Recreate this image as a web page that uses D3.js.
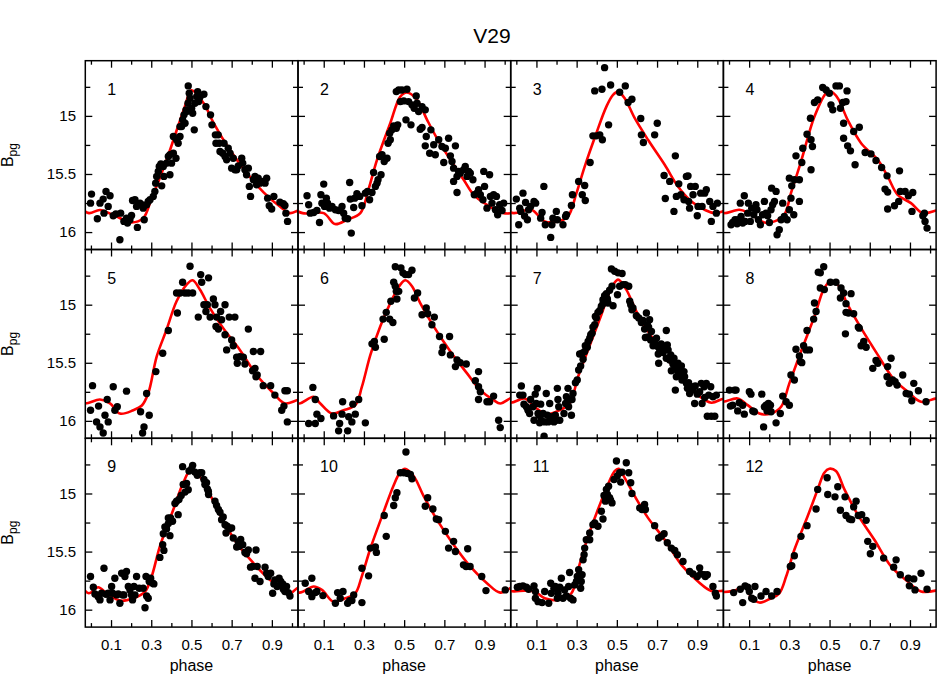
<!DOCTYPE html>
<html>
<head>
<meta charset="utf-8">
<script src="https://cdn.jsdelivr.net/npm/d3@7"></script>
<style>
body{margin:0;background:#fff}
text{font-family:"Liberation Sans",Arial,Helvetica,sans-serif;fill:#000}
</style>
</head>
<body>
<svg id="chart" width="937" height="684"></svg>
<script>
// ticks
const phaseMajor = [0.1, 0.3, 0.5, 0.7, 0.9];
const phaseMinor = [0, 0.2, 0.4, 0.6, 0.8, 1.0];
const magMajor = [15, 15.5, 16];
const magMinor = [14.75, 15.25, 15.75];
const panelNames = ['1','2','3','4','5','6','7','8','9','10','11','12'];

// observations [phase, B_pg]
const obs1 = [[0.003,15.673],[-0.002,15.751],[0.032,15.885],[0.045,15.751],[0.061,15.716],[0.075,15.65],[0.095,15.688],[0.065,15.837],[0.086,15.779],[0.111,15.86],[0.124,15.845],[0.148,15.837],[0.144,16.066],[0.164,15.908],[0.177,15.88],[0.182,15.922],[0.194,15.894],[0.202,15.857],[0.207,15.728],[0.219,15.722],[0.227,15.779],[0.231,15.96],[0.244,15.751],[0.252,15.765],[0.26,15.794],[0.265,15.894],[0.277,15.765],[0.285,15.736],[0.294,15.722],[0.31,15.693],[0.318,15.65],[0.322,15.579],[0.327,15.521],[0.335,15.478],[0.34,15.435],[0.348,15.413],[0.36,15.435],[0.363,15.521],[0.352,15.602],[0.376,15.407],[0.385,15.35],[0.393,15.335],[0.401,15.407],[0.393,15.507],[0.41,15.321],[0.423,15.364],[0.41,15.178],[0.426,15.206],[0.443,15.178],[0.443,15.092],[0.434,15.235],[0.451,15.092],[0.456,15.034],[0.463,14.991],[0.473,14.948],[0.468,15.063],[0.476,14.963],[0.483,14.891],[0.484,14.742],[0.489,14.805],[0.493,14.848],[0.501,14.934],[0.506,14.977],[0.514,15.12],[0.517,14.891],[0.526,14.834],[0.531,14.791],[0.536,14.877],[0.542,14.84],[0.562,14.814],[0.572,14.92],[0.595,14.991],[0.602,15.077],[0.619,15.163],[0.622,15.235],[0.633,15.163],[0.638,15.235],[0.642,15.307],[0.655,15.321],[0.662,15.235],[0.667,15.35],[0.675,15.378],[0.683,15.278],[0.692,15.321],[0.7,15.45],[0.708,15.364],[0.716,15.464],[0.725,15.464],[0.733,15.43],[0.75,15.364],[0.755,15.407],[0.766,15.464],[0.774,15.507],[0.783,15.45],[0.788,15.607],[0.794,15.693],[0.808,15.55],[0.816,15.521],[0.824,15.593],[0.832,15.536],[0.841,15.579],[0.854,15.564],[0.866,15.579],[0.874,15.536],[0.879,15.708],[0.887,15.774],[0.899,15.802],[0.91,15.693],[0.94,15.742],[0.957,15.756],[0.965,15.771],[0.97,15.837],[0.978,15.908]];
const obs2 = [[0.017,15.688],[0.025,15.765],[0.033,15.837],[0.05,15.831],[0.066,15.814],[0.079,15.917],[0.086,15.679],[0.091,15.751],[0.1,15.587],[0.104,15.779],[0.113,15.708],[0.119,15.751],[0.129,15.794],[0.141,15.779],[0.158,15.808],[0.174,15.814],[0.191,15.779],[0.199,15.837],[0.207,15.88],[0.219,15.885],[0.229,15.573],[0.237,16.009],[0.232,15.716],[0.249,15.788],[0.254,15.708],[0.265,15.67],[0.279,15.693],[0.29,15.774],[0.307,15.665],[0.318,15.65],[0.328,15.722],[0.34,15.659],[0.348,15.487],[0.357,15.607],[0.365,15.579],[0.37,15.55],[0.385,15.507],[0.378,15.35],[0.39,15.335],[0.401,15.393],[0.415,15.364],[0.42,15.235],[0.431,15.206],[0.428,15.149],[0.439,15.12],[0.448,15.086],[0.461,15.106],[0.468,15.077],[0.461,14.791],[0.473,14.777],[0.489,14.777],[0.514,14.771],[0.481,14.877],[0.498,14.871],[0.509,15.034],[0.522,14.877],[0.534,15.077],[0.539,14.905],[0.55,14.934],[0.56,14.828],[0.564,14.891],[0.572,14.963],[0.58,15.115],[0.589,14.92],[0.605,14.948],[0.589,15.1],[0.61,15.178],[0.633,15.12],[0.605,15.258],[0.627,15.321],[0.647,15.249],[0.655,15.335],[0.672,15.206],[0.688,15.264],[0.697,15.401],[0.705,15.278],[0.721,15.192],[0.73,15.344],[0.738,15.393],[0.746,15.45],[0.755,15.258],[0.746,15.564],[0.763,15.659],[0.763,15.521],[0.771,15.478],[0.779,15.493],[0.796,15.464],[0.804,15.435],[0.813,15.521],[0.821,15.478],[0.829,15.493],[0.842,15.55],[0.849,15.679],[0.862,15.665],[0.87,15.636],[0.879,15.679],[0.892,15.722],[0.896,15.478],[0.9,15.607],[0.912,15.794],[0.925,15.507],[0.929,15.693],[0.937,15.751],[0.945,15.679],[0.954,15.808],[0.959,15.693],[0.965,15.851],[0.975,15.765],[0.987,15.814],[0.995,15.751]];
const obs3 = [[0.0,15.716],[0.017,15.794],[0.012,15.937],[0.022,15.822],[0.033,15.665],[0.041,15.862],[0.046,15.745],[0.055,15.894],[0.061,15.808],[0.071,15.779],[0.088,15.736],[0.096,15.751],[0.121,15.88],[0.128,15.831],[0.137,15.607],[0.144,15.937],[0.171,16.046],[0.177,15.937],[0.182,15.88],[0.199,15.822],[0.204,15.894],[0.232,15.937],[0.245,15.865],[0.249,15.851],[0.274,15.771],[0.279,15.679],[0.31,15.564],[0.328,15.679],[0.34,15.599],[0.343,15.728],[0.367,15.401],[0.381,15.172],[0.398,15.172],[0.415,15.163],[0.428,15.206],[0.39,14.785],[0.426,14.771],[0.439,14.585],[0.459,15.077],[0.469,14.734],[0.514,14.797],[0.542,14.742],[0.556,14.885],[0.575,14.857],[0.619,15.023],[0.622,15.163],[0.632,15.229],[0.688,15.163],[0.701,15.063],[0.735,15.513],[0.741,15.711],[0.763,15.564],[0.784,15.822],[0.791,15.344],[0.796,15.693],[0.808,15.585],[0.818,15.679],[0.834,15.722],[0.846,15.521],[0.854,15.516],[0.862,15.794],[0.857,15.736],[0.867,15.607],[0.879,15.679],[0.89,15.607],[0.9,15.86],[0.904,15.779],[0.917,15.665],[0.924,15.779],[0.937,15.665],[0.945,15.636],[0.962,15.736],[0.97,15.908],[0.978,15.779],[0.995,15.837],[1.0,15.751]];
const obs4 = [[0.01,15.937],[0.018,15.917],[0.03,15.894],[0.04,15.928],[0.046,15.894],[0.056,15.751],[0.06,15.865],[0.068,15.922],[0.076,15.688],[0.08,15.908],[0.093,15.837],[0.096,15.751],[0.106,15.908],[0.113,15.794],[0.123,15.851],[0.134,15.765],[0.139,15.808],[0.146,15.894],[0.156,15.937],[0.167,15.851],[0.176,15.736],[0.184,15.837],[0.192,15.86],[0.201,15.917],[0.209,15.808],[0.217,15.765],[0.226,15.736],[0.212,15.622],[0.234,15.65],[0.239,16.023],[0.25,15.98],[0.259,15.894],[0.267,15.751],[0.275,15.865],[0.289,15.894],[0.3,15.808],[0.308,15.708],[0.322,15.851],[0.3,15.536],[0.312,15.602],[0.325,15.55],[0.35,15.55],[0.35,15.736],[0.333,15.344],[0.362,15.401],[0.367,15.278],[0.388,15.158],[0.408,15.464],[0.408,15.206],[0.405,15.02],[0.415,15.264],[0.425,14.885],[0.441,14.862],[0.466,14.756],[0.483,14.777],[0.499,14.805],[0.507,14.905],[0.516,14.948],[0.532,14.742],[0.549,14.742],[0.554,14.934],[0.566,14.885],[0.582,14.877],[0.587,14.785],[0.57,15.063],[0.57,15.192],[0.59,15.258],[0.604,15.301],[0.62,15.135],[0.648,15.098],[0.627,15.421],[0.677,15.315],[0.706,15.327],[0.731,15.384],[0.759,15.444],[0.776,15.63],[0.786,15.516],[0.789,15.656],[0.789,15.802],[0.823,15.774],[0.844,15.736],[0.848,15.473],[0.852,15.65],[0.876,15.65],[0.892,15.688],[0.914,15.659],[0.91,15.822],[0.964,15.86],[0.975,15.908],[0.985,15.966],[0.972,15.837]];
const obs5 = [[0.008,15.697],[-0.002,15.908],[0.028,16.009],[0.038,15.873],[0.045,16.052],[0.061,16.104],[0.07,15.951],[0.081,15.816],[0.086,16.009],[0.111,15.706],[0.119,15.908],[0.131,15.879],[0.177,15.744],[0.247,15.922],[0.257,16.104],[0.264,16.052],[0.277,15.764],[0.29,15.951],[0.323,15.576],[0.357,15.418],[0.385,15.222],[0.43,15.072],[0.426,14.899],[0.443,14.899],[0.456,14.807],[0.468,14.899],[0.484,14.899],[0.493,14.669],[0.506,14.899],[0.534,15.107],[0.546,14.741],[0.551,14.807],[0.562,15.0],[0.572,15.058],[0.579,15.0],[0.585,14.769],[0.593,15.107],[0.609,14.951],[0.617,15.0],[0.622,15.187],[0.625,15.107],[0.634,15.21],[0.645,15.058],[0.65,15.13],[0.667,15.0],[0.667,15.259],[0.675,15.389],[0.688,15.107],[0.7,15.303],[0.708,15.354],[0.716,15.107],[0.725,15.452],[0.728,15.504],[0.741,15.447],[0.758,15.452],[0.766,15.51],[0.783,15.21],[0.804,15.568],[0.808,15.403],[0.816,15.548],[0.821,15.62],[0.827,15.605],[0.844,15.403],[0.857,15.697],[0.894,15.697],[0.915,15.778],[0.949,15.908],[0.96,15.873],[0.965,15.741],[0.977,15.741],[0.977,16.009]];
const obs6 = [[0.025,16.023],[0.046,15.712],[0.058,15.816],[0.058,16.023],[0.066,15.942],[0.086,15.98],[0.149,15.957],[0.179,16.023],[0.191,15.942],[0.194,15.836],[0.174,16.086],[0.219,16.086],[0.224,15.965],[0.24,16.009],[0.245,15.856],[0.257,15.942],[0.274,15.816],[0.307,16.017],[0.34,15.337],[0.352,15.317],[0.357,15.366],[0.395,15.124],[0.401,15.297],[0.411,15.066],[0.428,15.124],[0.444,15.153],[0.434,14.971],[0.448,14.807],[0.456,14.841],[0.464,14.951],[0.461,14.885],[0.473,14.885],[0.456,14.674],[0.484,14.683],[0.494,14.726],[0.506,14.741],[0.522,14.741],[0.539,14.703],[0.551,14.942],[0.567,14.899],[0.589,15.086],[0.61,15.029],[0.617,15.078],[0.638,15.173],[0.65,15.107],[0.676,15.274],[0.688,15.412],[0.693,15.366],[0.726,15.274],[0.73,15.432],[0.755,15.533],[0.763,15.476],[0.779,15.499],[0.809,15.51],[0.854,15.654],[0.87,15.576],[0.87,15.706],[0.879,15.749],[0.87,15.816],[0.912,15.836],[0.925,15.836],[0.945,15.787],[0.97,15.994],[0.978,16.058]];
const obs7 = [[0.017,15.778],[0.025,15.7],[0.033,15.778],[0.038,15.856],[0.05,15.879],[0.058,15.908],[0.066,15.937],[0.071,15.816],[0.083,15.879],[0.088,15.994],[0.094,15.77],[0.099,15.85],[0.104,15.72],[0.108,15.937],[0.113,15.951],[0.116,16.017],[0.121,15.856],[0.124,15.994],[0.133,15.937],[0.138,16.133],[0.141,16.009],[0.149,15.764],[0.154,15.951],[0.158,16.009],[0.166,15.85],[0.171,15.965],[0.177,15.994],[0.187,16.009],[0.194,15.951],[0.199,15.994],[0.204,15.72],[0.207,15.816],[0.211,15.879],[0.216,15.994],[0.237,15.937],[0.245,15.85],[0.249,15.793],[0.257,15.72],[0.26,15.879],[0.265,15.821],[0.274,15.951],[0.277,15.816],[0.282,15.764],[0.294,15.671],[0.303,15.648],[0.31,15.562],[0.32,15.527],[0.332,15.47],[0.315,15.424],[0.327,15.418],[0.34,15.403],[0.343,15.354],[0.353,15.366],[0.357,15.317],[0.365,15.288],[0.37,15.259],[0.377,15.245],[0.381,15.193],[0.39,15.173],[0.398,15.115],[0.393,15.101],[0.406,15.066],[0.415,15.049],[0.423,15.014],[0.431,14.957],[0.439,14.922],[0.431,14.991],[0.448,14.905],[0.453,14.951],[0.456,14.986],[0.464,14.876],[0.476,14.841],[0.481,15.009],[0.473,14.692],[0.489,14.712],[0.506,14.726],[0.526,14.732],[0.514,14.841],[0.503,14.914],[0.531,14.827],[0.542,14.827],[0.559,14.841],[0.564,14.971],[0.569,15.0],[0.58,15.029],[0.575,15.043],[0.597,15.095],[0.609,15.115],[0.622,15.153],[0.63,15.135],[0.638,15.21],[0.647,15.072],[0.652,15.173],[0.658,15.193],[0.663,15.13],[0.672,15.231],[0.642,15.282],[0.655,15.277],[0.668,15.305],[0.68,15.354],[0.688,15.317],[0.697,15.288],[0.703,15.36],[0.706,15.424],[0.708,15.504],[0.713,15.383],[0.721,15.337],[0.73,15.412],[0.735,15.36],[0.746,15.222],[0.746,15.461],[0.751,15.346],[0.755,15.389],[0.763,15.476],[0.768,15.432],[0.771,15.568],[0.779,15.51],[0.784,15.461],[0.791,15.533],[0.796,15.62],[0.801,15.568],[0.804,15.504],[0.813,15.548],[0.817,15.605],[0.821,15.527],[0.824,15.648],[0.834,15.576],[0.837,15.62],[0.846,15.677],[0.791,15.735],[0.851,15.72],[0.857,15.671],[0.862,15.764],[0.871,15.706],[0.879,15.735],[0.89,15.7],[0.887,15.85],[0.9,15.77],[0.912,15.749],[0.92,15.677],[0.924,15.85],[0.934,15.706],[0.937,15.798],[0.945,15.677],[0.95,15.96],[0.957,15.778],[0.967,15.706],[0.97,15.96],[0.978,15.793],[0.987,15.96],[0.995,15.778]];
const obs8 = [[0.002,15.735],[0.007,15.873],[0.018,15.865],[0.027,15.735],[0.035,15.735],[0.043,15.914],[0.051,15.844],[0.068,15.865],[0.076,15.942],[0.101,15.749],[0.109,15.77],[0.118,15.914],[0.126,15.922],[0.163,15.77],[0.172,16.052],[0.176,15.879],[0.184,15.865],[0.189,15.914],[0.196,15.85],[0.206,15.865],[0.209,15.922],[0.234,16.017],[0.255,15.937],[0.267,15.787],[0.284,15.836],[0.3,15.865],[0.308,15.605],[0.325,15.648],[0.333,15.383],[0.35,15.441],[0.355,15.49],[0.362,15.499],[0.371,15.354],[0.383,15.389],[0.4,15.389],[0.388,15.222],[0.421,15.124],[0.433,15.058],[0.425,14.986],[0.444,14.72],[0.454,14.726],[0.471,14.674],[0.454,14.856],[0.474,14.87],[0.504,14.807],[0.532,14.807],[0.557,14.856],[0.554,14.942],[0.57,14.899],[0.582,14.991],[0.607,14.905],[0.582,15.066],[0.594,15.072],[0.62,15.078],[0.643,15.193],[0.648,15.202],[0.579,15.251],[0.657,15.354],[0.67,15.317],[0.682,15.366],[0.731,15.481],[0.74,15.504],[0.715,15.548],[0.806,15.461],[0.789,15.533],[0.786,15.62],[0.797,15.677],[0.814,15.648],[0.826,15.663],[0.836,15.692],[0.864,15.605],[0.881,15.764],[0.897,15.77],[0.909,15.827],[0.919,15.677],[0.942,15.741],[0.98,15.836]];
const obs9 = [[-0.002,15.715],[0.012,15.807],[0.02,15.865],[0.036,15.888],[0.045,15.916],[0.053,15.859],[0.065,15.643],[0.075,15.867],[0.086,15.859],[0.095,15.916],[0.103,15.801],[0.108,15.859],[0.119,15.729],[0.128,15.873],[0.136,15.865],[0.144,15.945],[0.153,15.686],[0.158,15.873],[0.164,15.873],[0.169,15.715],[0.177,15.671],[0.186,15.801],[0.194,15.83],[0.202,15.873],[0.207,15.916],[0.214,15.801],[0.219,15.873],[0.227,15.715],[0.24,15.816],[0.26,15.816],[0.269,15.983],[0.274,15.715],[0.277,15.882],[0.285,15.902],[0.29,15.758],[0.297,15.729],[0.307,15.772],[0.313,15.778],[0.343,15.55],[0.357,15.441],[0.363,15.49],[0.36,15.346],[0.368,15.288],[0.376,15.305],[0.385,15.259],[0.393,15.363],[0.385,15.21],[0.396,15.21],[0.406,15.239],[0.418,15.086],[0.434,15.182],[0.426,15.066],[0.438,15.052],[0.449,15.017],[0.456,14.769],[0.459,14.922],[0.468,14.988],[0.476,14.914],[0.484,14.968],[0.488,14.807],[0.501,14.787],[0.506,14.758],[0.517,14.816],[0.529,14.844],[0.542,14.821],[0.551,14.821],[0.562,14.879],[0.567,14.922],[0.575,14.908],[0.579,14.96],[0.585,15.009],[0.584,14.98],[0.617,15.066],[0.625,15.104],[0.634,15.138],[0.642,15.161],[0.65,15.225],[0.658,15.202],[0.667,15.268],[0.672,15.34],[0.678,15.282],[0.688,15.305],[0.7,15.297],[0.708,15.383],[0.725,15.461],[0.733,15.418],[0.738,15.455],[0.745,15.395],[0.755,15.441],[0.766,15.507],[0.774,15.519],[0.783,15.487],[0.794,15.634],[0.804,15.628],[0.821,15.487],[0.816,15.729],[0.827,15.628],[0.841,15.758],[0.866,15.634],[0.874,15.686],[0.882,15.715],[0.894,15.686],[0.904,15.859],[0.91,15.778],[0.915,15.744],[0.926,15.801],[0.936,15.729],[0.944,15.758],[0.954,15.778],[0.957,15.824],[0.965,15.844],[0.973,15.801],[0.982,15.853],[0.99,15.882]];
const obs10 = [[0.008,15.772],[0.025,15.844],[0.041,15.729],[0.041,15.888],[0.058,15.853],[0.066,15.844],[0.096,15.879],[0.158,15.945],[0.169,15.853],[0.182,15.902],[0.196,15.844],[0.219,15.945],[0.229,15.922],[0.24,15.922],[0.249,15.873],[0.29,15.939],[0.29,15.643],[0.323,15.709],[0.332,15.47],[0.357,15.461],[0.362,15.507],[0.401,15.19],[0.411,15.369],[0.448,15.104],[0.456,15.037],[0.464,14.994],[0.481,14.821],[0.498,14.821],[0.509,14.643],[0.517,14.827],[0.531,14.836],[0.539,14.873],[0.605,15.11],[0.617,15.037],[0.643,15.133],[0.66,15.219],[0.672,15.225],[0.705,15.326],[0.721,15.47],[0.746,15.412],[0.755,15.499],[0.795,15.614],[0.808,15.628],[0.816,15.476],[0.828,15.628],[0.886,15.715],[0.907,15.836],[1.003,15.83]];
const obs11 = [[0.005,15.807],[0.017,15.801],[0.033,15.795],[0.05,15.807],[0.061,15.824],[0.088,15.795],[0.095,15.844],[0.095,15.902],[0.108,15.931],[0.128,15.939],[0.141,15.844],[0.161,15.945],[0.171,15.772],[0.174,15.859],[0.187,15.816],[0.194,15.801],[0.204,15.902],[0.207,15.859],[0.216,15.807],[0.224,15.729],[0.232,15.902],[0.24,15.83],[0.249,15.882],[0.26,15.801],[0.265,15.68],[0.27,15.902],[0.282,15.916],[0.29,15.787],[0.299,15.758],[0.303,15.715],[0.31,15.657],[0.32,15.816],[0.323,15.758],[0.327,15.7],[0.332,15.571],[0.337,15.527],[0.34,15.47],[0.348,15.398],[0.365,15.398],[0.365,15.34],[0.381,15.268],[0.39,15.254],[0.406,15.282],[0.423,15.153],[0.431,15.219],[0.436,15.017],[0.443,15.066],[0.448,14.965],[0.453,15.009],[0.459,14.937],[0.464,15.037],[0.469,15.058],[0.476,15.081],[0.486,14.879],[0.498,14.72],[0.502,14.85],[0.514,14.821],[0.519,14.902],[0.526,14.816],[0.547,14.735],[0.559,14.821],[0.569,14.908],[0.575,15.0],[0.614,15.124],[0.625,15.138],[0.638,15.095],[0.642,15.138],[0.688,15.277],[0.708,15.383],[0.721,15.369],[0.735,15.346],[0.751,15.424],[0.771,15.47],[0.788,15.49],[0.801,15.527],[0.829,15.585],[0.862,15.671],[0.879,15.692],[0.9,15.715],[0.912,15.64],[0.917,15.692],[0.934,15.698],[0.94,15.715],[0.95,15.7],[0.978,15.801],[0.99,15.859],[0.995,15.882]];
const obs12 = [[0.023,15.853],[0.056,15.824],[0.068,15.939],[0.08,15.795],[0.093,15.807],[0.101,15.844],[0.113,15.902],[0.123,15.911],[0.129,15.801],[0.159,15.882],[0.184,15.844],[0.212,15.882],[0.239,15.844],[0.305,15.628],[0.312,15.622],[0.325,15.536],[0.358,15.369],[0.388,15.277],[0.433,15.133],[0.441,14.965],[0.488,14.865],[0.491,15.009],[0.527,15.029],[0.541,14.942],[0.554,15.144],[0.577,15.029],[0.582,15.19],[0.599,15.219],[0.61,15.225],[0.62,15.115],[0.632,15.066],[0.643,15.19],[0.66,15.182],[0.682,15.231],[0.69,15.412],[0.715,15.455],[0.703,15.519],[0.769,15.556],[0.819,15.634],[0.831,15.571],[0.852,15.7],[0.892,15.729],[0.897,15.795],[0.919,15.735],[0.925,15.83],[0.955,15.686],[0.985,15.824]];

// fitted light curves, knots over one cycle [phase, B_pg]
const fit1 = [[0.045,15.81],[0.12,15.86],[0.2,15.917],[0.26,15.88],[0.3,15.72],[0.376,15.38],[0.467,14.92],[0.5,14.78],[0.56,14.89],[0.61,15.06],[0.69,15.29],[0.775,15.49],[0.86,15.66],[0.94,15.78],[0.99,15.837]];
const fit2 = [[0.1,15.837],[0.156,15.931],[0.216,15.894],[0.282,15.837],[0.322,15.636],[0.365,15.378],[0.431,15.063],[0.481,14.834],[0.514,14.799],[0.564,14.862],[0.614,15.034],[0.663,15.192],[0.73,15.378],[0.796,15.55],[0.846,15.679],[0.912,15.765],[0.995,15.837]];
const fit3 = [[0.075,15.808],[0.141,15.908],[0.207,15.908],[0.257,15.865],[0.299,15.665],[0.34,15.436],[0.398,15.149],[0.448,14.92],[0.481,14.819],[0.506,14.791],[0.539,14.848],[0.589,15.02],[0.655,15.206],[0.738,15.421],[0.804,15.607],[0.871,15.736],[0.937,15.808],[0.987,15.837]];
const fit4 = [[0.051,15.808],[0.093,15.831],[0.176,15.917],[0.226,15.908],[0.275,15.851],[0.308,15.665],[0.358,15.393],[0.425,15.006],[0.483,14.805],[0.507,14.791],[0.541,14.848],[0.59,15.034],[0.657,15.235],[0.74,15.378],[0.789,15.521],[0.839,15.679],[0.905,15.751],[0.964,15.837]];
const fit5 = [[0.045,15.816],[0.095,15.85],[0.144,15.937],[0.211,15.908],[0.252,15.87],[0.285,15.764],[0.327,15.447],[0.376,15.216],[0.426,14.971],[0.476,14.827],[0.506,14.79],[0.542,14.87],[0.592,15.029],[0.658,15.202],[0.741,15.389],[0.824,15.605],[0.909,15.764],[0.965,15.85]];
const fit6 = [[0.05,15.793],[0.083,15.85],[0.141,15.937],[0.199,15.908],[0.257,15.865],[0.29,15.706],[0.332,15.432],[0.381,15.187],[0.431,14.986],[0.481,14.827],[0.506,14.79],[0.539,14.841],[0.58,14.986],[0.647,15.187],[0.73,15.403],[0.813,15.591],[0.879,15.735],[0.945,15.821],[0.978,15.85]];
const fit7 = [[0.041,15.807],[0.091,15.879],[0.149,15.942],[0.207,15.914],[0.265,15.85],[0.307,15.62],[0.357,15.389],[0.423,15.086],[0.473,14.856],[0.506,14.784],[0.547,14.87],[0.597,15.058],[0.672,15.274],[0.755,15.476],[0.837,15.663],[0.904,15.778],[0.97,15.844]];
const fit8 = [[0.043,15.807],[0.093,15.865],[0.151,15.937],[0.209,15.937],[0.259,15.879],[0.3,15.677],[0.358,15.403],[0.425,15.101],[0.474,14.856],[0.507,14.798],[0.541,14.827],[0.59,15.0],[0.657,15.202],[0.74,15.432],[0.822,15.648],[0.889,15.749],[0.955,15.836]];
const fit9 = [[0.036,15.807],[0.078,15.859],[0.144,15.922],[0.211,15.902],[0.269,15.844],[0.302,15.715],[0.343,15.455],[0.41,15.138],[0.459,14.908],[0.493,14.807],[0.526,14.821],[0.575,14.951],[0.642,15.182],[0.725,15.427],[0.808,15.599],[0.891,15.744],[0.957,15.816],[0.99,15.859]];
const fit10 = [[0.05,15.801],[0.091,15.83],[0.148,15.931],[0.207,15.902],[0.257,15.859],[0.289,15.715],[0.33,15.484],[0.396,15.167],[0.446,14.937],[0.479,14.821],[0.504,14.787],[0.547,14.85],[0.597,15.023],[0.663,15.225],[0.746,15.441],[0.829,15.628],[0.912,15.772],[0.978,15.853]];
const fit11 = [[0.041,15.836],[0.091,15.844],[0.141,15.902],[0.207,15.916],[0.274,15.859],[0.307,15.657],[0.357,15.369],[0.406,15.138],[0.456,14.922],[0.489,14.807],[0.509,14.787],[0.539,14.865],[0.589,15.023],[0.655,15.21],[0.738,15.398],[0.821,15.614],[0.904,15.758],[0.97,15.839]];
const fit12 = [[0.027,15.836],[0.076,15.801],[0.109,15.888],[0.151,15.939],[0.209,15.902],[0.25,15.859],[0.284,15.715],[0.325,15.484],[0.391,15.196],[0.441,14.965],[0.474,14.821],[0.499,14.787],[0.532,14.807],[0.574,14.965],[0.64,15.182],[0.723,15.398],[0.806,15.628],[0.889,15.758],[0.955,15.844]];

const allObs = [obs1,obs2,obs3,obs4,obs5,obs6,obs7,obs8,obs9,obs10,obs11,obs12];
const allFit = [fit1,fit2,fit3,fit4,fit5,fit6,fit7,fit8,fit9,fit10,fit11,fit12];

const svg = d3.select('#chart');
const left = 85.3, top0 = 60.7;
const pw = 212.7, ph = 188.8;

const x = d3.scaleLinear().domain([-0.028, 1.03]).range([0, pw]);
const y = d3.scaleLinear().domain([14.525, 16.15]).range([0, ph]);
const fmt = d3.format('~g');

svg.append('text')
    .attr('x', 492).attr('y', 43)
    .attr('text-anchor', 'middle')
    .style('font-size', '21px')
    .text('V29');

const line = d3.line()
    .x(d => x(d[0]))
    .y(d => y(d[1]))
    .curve(d3.curveCatmullRom.alpha(0.5));

function styleAxis(g) {
    g.select('.domain').remove();
    g.selectAll('line').attr('stroke', '#000').attr('stroke-width', 1.3);
    g.selectAll('text').style('font-size', '15px').style('font-family', '"Liberation Sans",Arial,sans-serif');
}

allObs.forEach((obs, i) => {
    const col = i % 4, row = Math.floor(i / 4);
    const g = svg.append('g')
        .attr('transform', `translate(${left + col * pw},${top0 + row * ph})`);

    g.append('clipPath').attr('id', 'clip' + i)
        .append('rect').attr('width', pw).attr('height', ph);
    const plot = g.append('g').attr('clip-path', `url(#clip${i})`);

    // fit, repeated one cycle each side so it spans the whole box
    let knots = [];
    [-1, 0, 1].forEach(s => allFit[i].forEach(d => knots.push([d[0] + s, d[1]])));
    knots = knots.filter(d => d[0] > -0.3 && d[0] < 1.3).sort((a, b) => a[0] - b[0]);
    plot.append('path')
        .attr('d', line(knots))
        .attr('fill', 'none')
        .attr('stroke', '#ff0000')
        .attr('stroke-width', 2.6);

    plot.selectAll('circle')
        .data(obs)
        .enter().append('circle')
        .attr('cx', d => x(d[0]))
        .attr('cy', d => y(d[1]))
        .attr('r', 3.7)
        .attr('fill', '#000');

    // ticks on all four sides, pointing in
    g.append('g').attr('transform', `translate(0,${ph})`)
        .call(d3.axisBottom(x).tickValues(phaseMajor).tickSize(-7).tickPadding(12.7)
            .tickFormat(row === 2 ? fmt : ''))
        .call(styleAxis);
    g.append('g').attr('transform', `translate(0,${ph})`)
        .call(d3.axisBottom(x).tickValues(phaseMinor).tickSize(-4).tickFormat(''))
        .call(styleAxis);
    g.append('g')
        .call(d3.axisTop(x).tickValues(phaseMajor).tickSize(-7).tickFormat(''))
        .call(styleAxis);
    g.append('g')
        .call(d3.axisTop(x).tickValues(phaseMinor).tickSize(-4).tickFormat(''))
        .call(styleAxis);
    g.append('g')
        .call(d3.axisLeft(y).tickValues(magMajor).tickSize(-7).tickPadding(9.3)
            .tickFormat(col === 0 ? fmt : ''))
        .call(styleAxis);
    g.append('g')
        .call(d3.axisLeft(y).tickValues(magMinor).tickSize(-5).tickFormat(''))
        .call(styleAxis);
    g.append('g').attr('transform', `translate(${pw},0)`)
        .call(d3.axisRight(y).tickValues(magMajor).tickSize(-7).tickFormat(''))
        .call(styleAxis);
    g.append('g').attr('transform', `translate(${pw},0)`)
        .call(d3.axisRight(y).tickValues(magMinor).tickSize(-5).tickFormat(''))
        .call(styleAxis);

    g.append('rect')
        .attr('width', pw).attr('height', ph)
        .attr('fill', 'none')
        .attr('stroke', '#000')
        .attr('stroke-width', 1.5);

    g.append('text')
        .attr('x', 22).attr('y', 34)
        .style('font-size', '16px')
        .text(panelNames[i]);

    if (row === 2) {
        g.append('text')
            .attr('x', x(0.5)).attr('y', ph + 44)
            .attr('text-anchor', 'middle')
            .style('font-size', '16px')
            .text('phase');
    }
    if (col === 0) {
        const lab = svg.append('text')
            .attr('transform', `translate(13,${top0 + row * ph + ph / 2}) rotate(-90)`)
            .attr('text-anchor', 'middle')
            .style('font-size', '16px');
        lab.append('tspan').text('B');
        lab.append('tspan').attr('dy', 4).style('font-size', '12px').text('pg');
    }
});
</script>
</body>
</html>
